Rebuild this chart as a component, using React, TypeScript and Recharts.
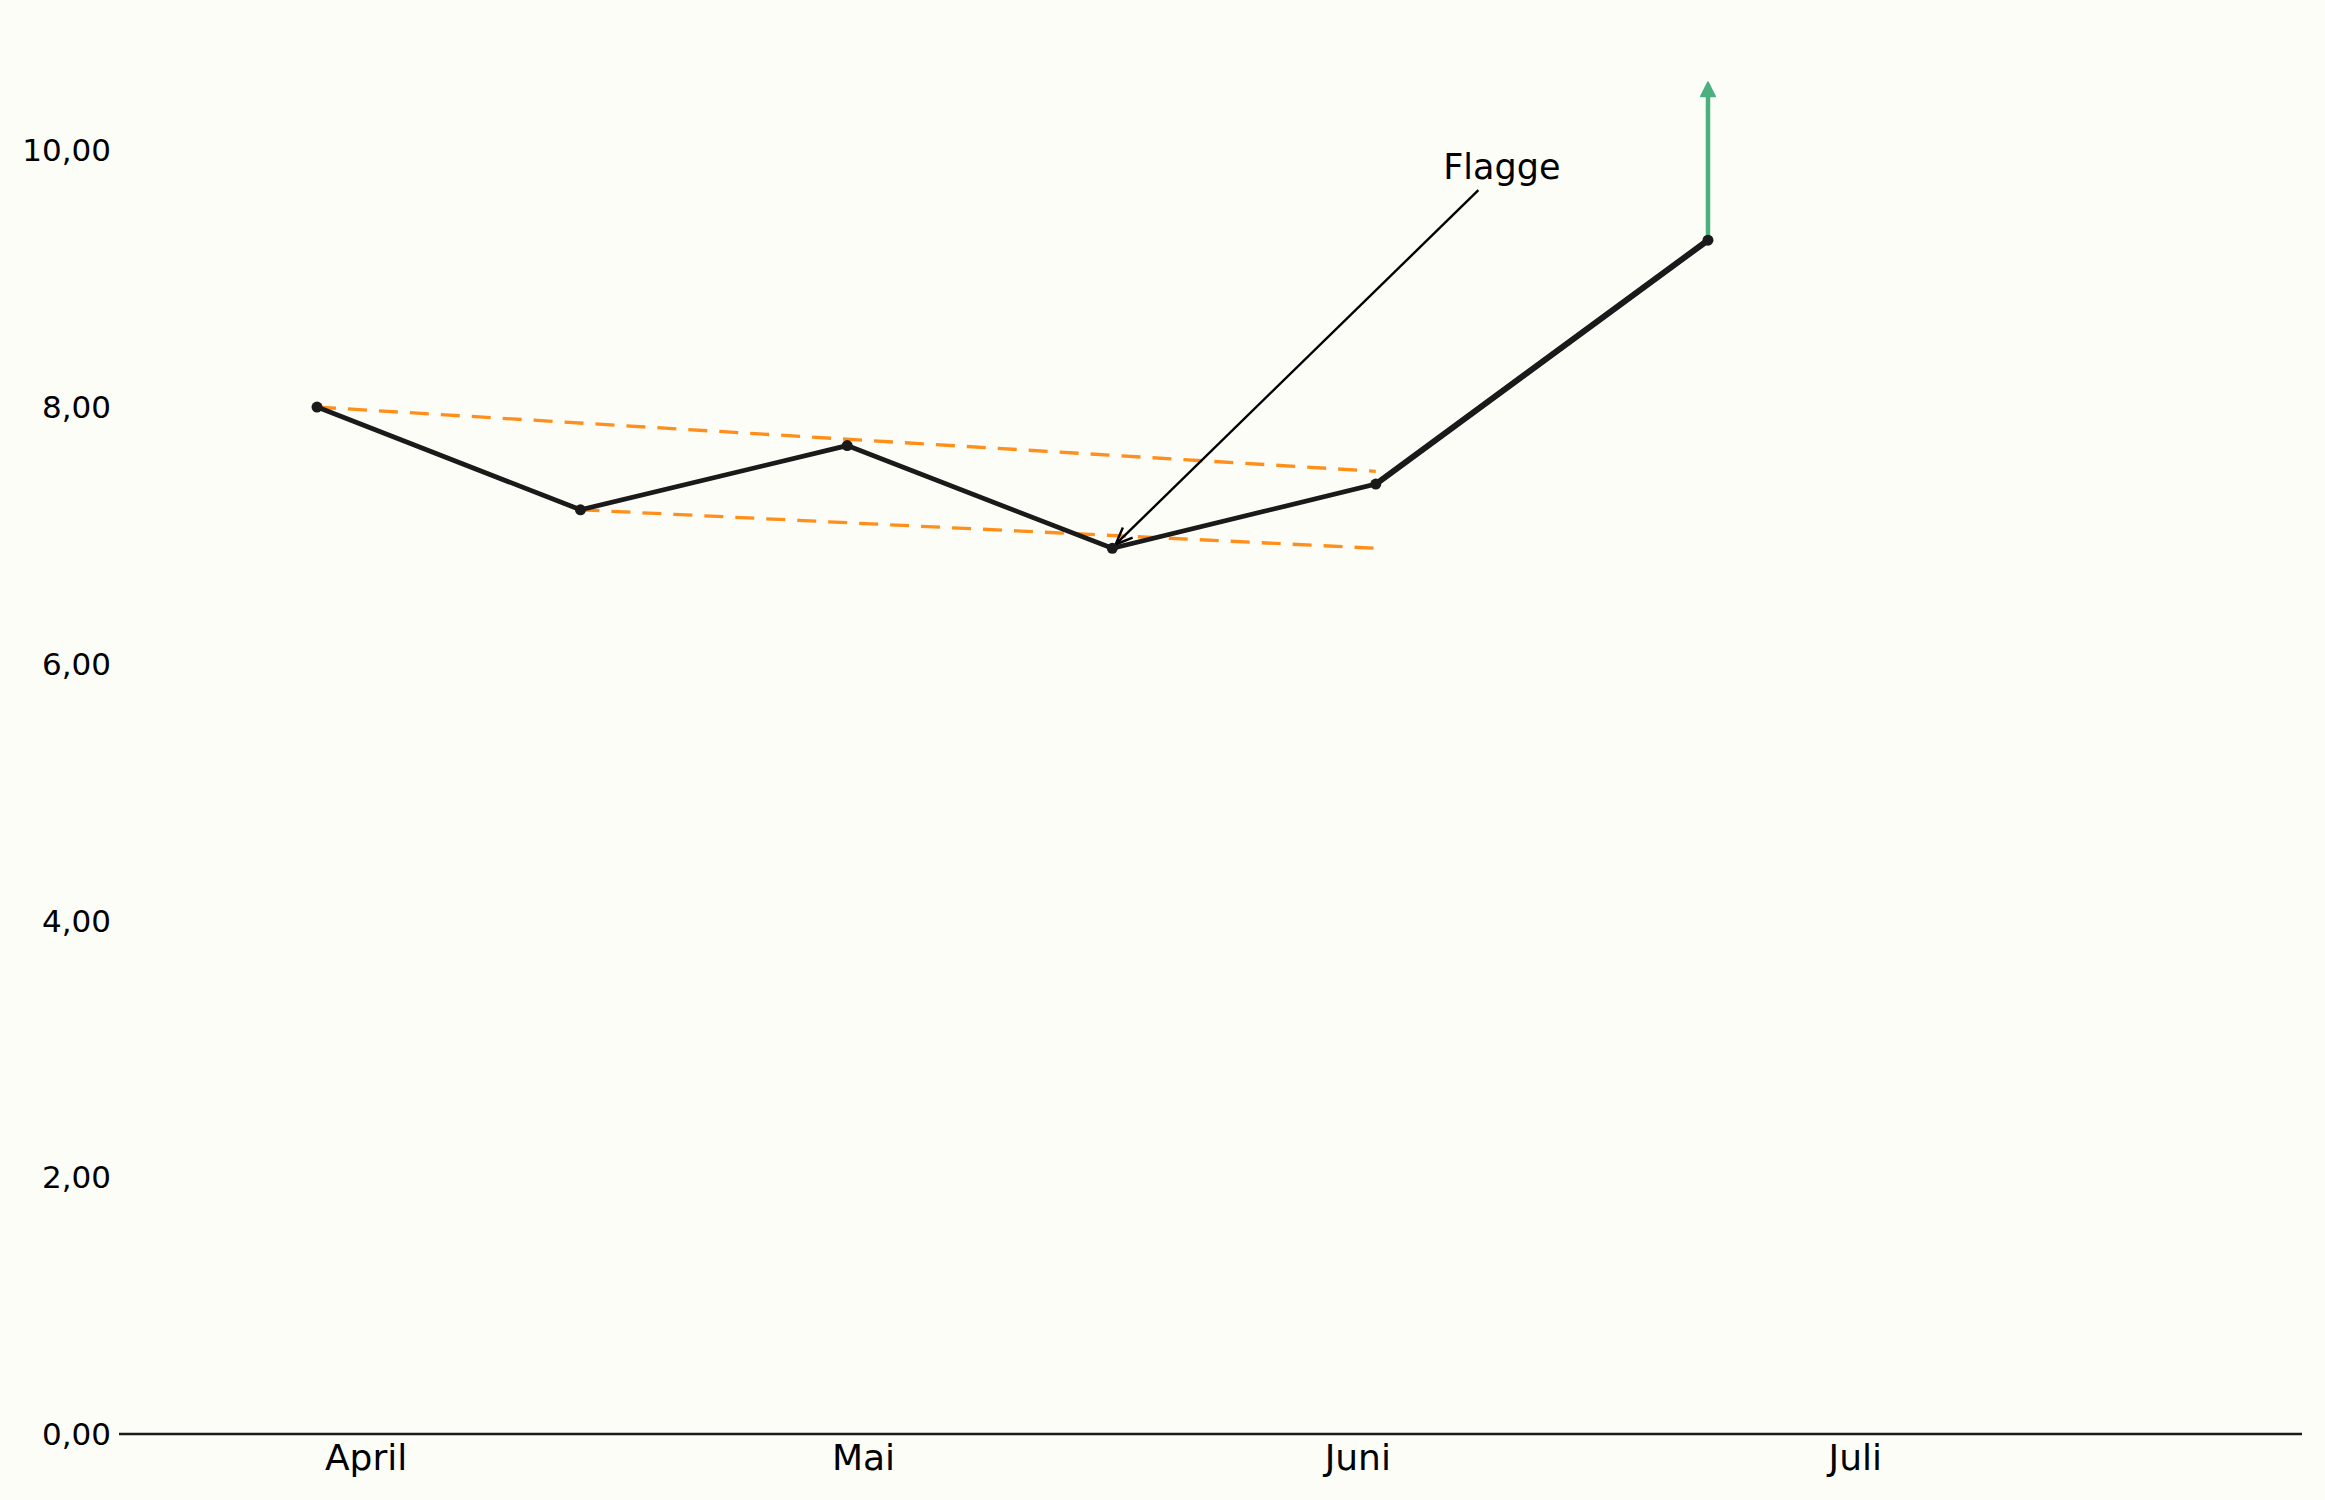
import React from 'react';
import { LineChart, Line, XAxis, YAxis, ReferenceLine, ReferenceDot } from 'recharts';

// x values are days counted from 1 April
const pointDays = [-3, 13.1, 29.4, 45.6, 61.7, 82];
const pointValues = [8.0, 7.2, 7.7, 6.9, 7.4, 9.3];

const breakoutDays = [61.7, 82];
const breakoutValues = [7.4, 9.3];

const monthTicks = [0, 30.4, 60.6, 91];
const monthLabels = ['April', 'Mai', 'Juni', 'Juli'];

const yTicks = [0, 2, 4, 6, 8, 10];

const upperChannelDays = [-3, 61.7];
const upperChannelValues = [8.0, 7.5];
const lowerChannelDays = [13.1, 61.7];
const lowerChannelValues = [7.2, 6.9];

const breakoutDay = 82;
const breakoutFrom = 9.3;
const breakoutTo = 10.53;

const annotationText = 'Flagge';
const annotationTextPos = { x: 69.4, y: 9.78 };
const annotationFrom = { x: 67.97, y: 9.69 };
const annotationTo = { x: 45.8, y: 6.93 };

const data = pointDays.map((d, i) => ({ x: d, y: pointValues[i] }));
const breakoutData = breakoutDays.map((d, i) => ({ x: d, y: breakoutValues[i] }));
const upperData = upperChannelDays.map((d, i) => ({ x: d, y: upperChannelValues[i] }));
const lowerData = lowerChannelDays.map((d, i) => ({ x: d, y: lowerChannelValues[i] }));

const FONT = '"DejaVu Sans", sans-serif';

const GreenArrow = (props: any) => {
  const { x1, y1, x2, y2 } = props;
  const headLen = 14;
  const headHalf = 7;
  const dx = x2 - x1;
  const dy = y2 - y1;
  const len = Math.sqrt(dx * dx + dy * dy) || 1;
  const ux = dx / len;
  const uy = dy / len;
  const bx = x2 - ux * headLen;
  const by = y2 - uy * headLen;
  const px = -uy;
  const py = ux;
  return (
    <g>
      <line x1={x1} y1={y1} x2={bx} y2={by} stroke="#4bb07f" strokeWidth={4.5} />
      <polygon
        points={`${x2},${y2} ${bx + px * headHalf},${by + py * headHalf} ${bx - px * headHalf},${by - py * headHalf}`}
        fill="#4bb07f"
        stroke="#4bb07f"
        strokeWidth={2}
        strokeLinejoin="round"
      />
    </g>
  );
};

const AnnotationArrow = (props: any) => {
  const { x1, y1, x2, y2 } = props;
  const headLen = 17;
  const headHalf = 7;
  const dx = x2 - x1;
  const dy = y2 - y1;
  const len = Math.sqrt(dx * dx + dy * dy) || 1;
  const ux = dx / len;
  const uy = dy / len;
  const bx = x2 - ux * headLen;
  const by = y2 - uy * headLen;
  const px = -uy;
  const py = ux;
  return (
    <g>
      <line x1={x1} y1={y1} x2={x2} y2={y2} stroke="#000" strokeWidth={2.4} />
      <polyline
        points={`${bx + px * headHalf},${by + py * headHalf} ${x2},${y2} ${bx - px * headHalf},${by - py * headHalf}`}
        fill="none"
        stroke="#000"
        strokeWidth={2.4}
      />
    </g>
  );
};

const AnnotationLabel = (props: any) => {
  const { cx, cy } = props;
  return (
    <text x={cx} y={cy} textAnchor="middle" fontFamily={FONT} fontSize={35} fill="#000">
      {annotationText}
    </text>
  );
};

export default function App() {
  return (
    <div style={{ position: 'absolute', left: 0, top: 0, width: 2325, height: 1500, background: '#fdfdf8' }}>
      <LineChart width={2325} height={1500} data={data} margin={{ top: 22, right: 23, bottom: 0, left: 0 }}>
        <XAxis
          dataKey="x"
          type="number"
          domain={[-15.1, 118.3]}
          ticks={monthTicks}
          interval={0}
          tickFormatter={(v: number) => monthLabels[monthTicks.indexOf(v)] ?? ''}
          axisLine={{ stroke: '#1a1a1a', strokeWidth: 2.5 }}
          tickLine={false}
          tickMargin={4}
          height={66}
          tick={{ fontFamily: FONT, fontSize: 36, fill: '#000' }}
        />
        <YAxis
          type="number"
          domain={[0, 11]}
          ticks={yTicks}
          interval={0}
          tickFormatter={(v: number) => v.toFixed(2).replace('.', ',')}
          axisLine={false}
          tickLine={false}
          width={119}
          tick={{ fontFamily: FONT, fontSize: 31, fill: '#000' }}
        />
        <Line
          data={upperData}
          dataKey="y"
          stroke="#ff8f1a"
          strokeWidth={3.3}
          strokeDasharray="19 12"
          dot={false}
          activeDot={false}
          isAnimationActive={false}
        />
        <Line
          data={lowerData}
          dataKey="y"
          stroke="#ff8f1a"
          strokeWidth={3.3}
          strokeDasharray="19 12"
          dot={false}
          activeDot={false}
          isAnimationActive={false}
        />
        <ReferenceLine
          segment={[
            { x: breakoutDay, y: breakoutFrom },
            { x: breakoutDay, y: breakoutTo },
          ]}
          shape={GreenArrow}
        />
        <Line
          dataKey="y"
          stroke="#1a1a1a"
          strokeWidth={4.8}
          dot={{ r: 5.5, fill: '#1a1a1a', stroke: '#1a1a1a', strokeWidth: 0 }}
          activeDot={false}
          isAnimationActive={false}
        />
        <Line
          data={breakoutData}
          dataKey="y"
          stroke="#1a1a1a"
          strokeWidth={6}
          dot={false}
          activeDot={false}
          isAnimationActive={false}
        />
        <ReferenceLine
          segment={[annotationFrom, annotationTo]}
          shape={AnnotationArrow}
        />
        <ReferenceDot x={annotationTextPos.x} y={annotationTextPos.y} r={0} shape={AnnotationLabel} />
      </LineChart>
    </div>
  );
}
